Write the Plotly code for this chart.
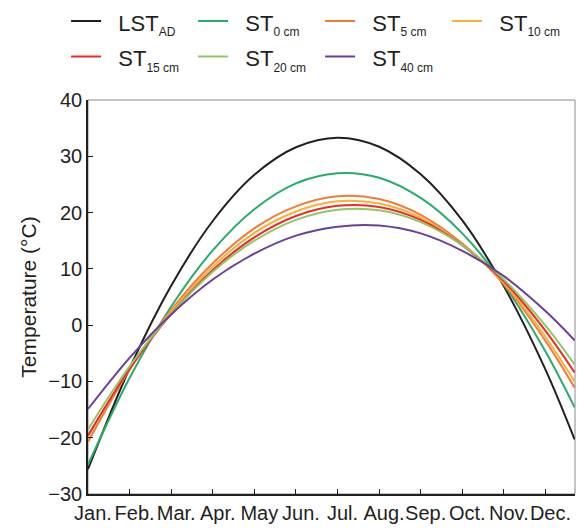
import plotly.graph_objects as go

# x position in months from start of January (axis runs to ~11.7)
month_pos = [0, 1, 2, 3, 4, 5, 6, 7, 8, 9, 10, 11, 11.7]
month_labels = ["Jan.", "Feb.", "Mar.", "Apr.", "May", "Jun.", "Jul.",
                "Aug.", "Sep.", "Oct.", "Nov.", "Dec."]

lst_ad = [-25.6, -7.7, 7.0, 18.5, 26.7, 31.6, 33.3, 31.7, 26.8, 18.6, 6.9, -7.9, -20.3]
st_0 = [-24.8, -9.4, 3.3, 13.3, 20.6, 25.2, 27.0, 26.2, 22.6, 16.3, 7.2, -4.7, -14.6]
st_5 = [-20.7, -7.9, 2.7, 11.0, 17.2, 21.1, 22.9, 22.4, 19.6, 14.5, 7.3, -2.8, -11.1]
st_10 = [-19.8, -7.7, 2.4, 10.4, 16.4, 20.2, 22.0, 21.6, 19.1, 14.2, 7.5, -2.1, -10.0]
st_15 = [-19.6, -7.8, 2.0, 9.8, 15.6, 19.4, 21.2, 21.0, 18.7, 14.2, 7.8, -1.0, -8.4]
st_20 = [-18.5, -7.3, 2.0, 9.5, 15.0, 18.7, 20.5, 20.4, 18.3, 14.2, 8.1, -0.1, -7.0]
st_40 = [-14.9, -5.8, 1.9, 8.1, 12.7, 15.9, 17.5, 17.7, 16.3, 13.2, 8.7, 2.5, -2.7]

series = [
    ("LST", "AD", lst_ad, "#231f20"),
    ("ST", "0 cm", st_0, "#25ad6c"),
    ("ST", "5 cm", st_5, "#ee7d3c"),
    ("ST", "10 cm", st_10, "#f8b133"),
    ("ST", "15 cm", st_15, "#ec2a2e"),
    ("ST", "20 cm", st_20, "#8fc862"),
    ("ST", "40 cm", st_40, "#6a3f9c"),
]

FONT = "Liberation Sans, Arial, sans-serif"
INK = "#231f20"
PAD = "\u00a0\u00a0"

fig = go.Figure()
for base, sub, vals, col in series:
    fig.add_trace(go.Scatter(
        x=month_pos, y=vals, mode="lines",
        line=dict(color=col, width=2, shape="spline", smoothing=1),
        name=(f"<span style='font-size:22px'>{PAD}{base}</span>"
              f"<sub><span style='font-size:12px'>{sub}</span></sub>"),
    ))

xr = [0, 11.71]
fig.update_layout(
    width=579, height=528,
    margin=dict(l=88, r=4, t=100, b=34, autoexpand=False),
    paper_bgcolor="white", plot_bgcolor="white",
    font=dict(family=FONT, size=20, color=INK),
    showlegend=True,
    legend=dict(
        orientation="h", x=-0.045, y=1.258, xanchor="left", yanchor="top",
        font=dict(family=FONT, size=25, color=INK),
        entrywidth=82, entrywidthmode="pixels",
        bgcolor="rgba(0,0,0,0)",
    ),
    xaxis=dict(
        range=xr, automargin=False,
        tickvals=[k + 0.12 for k in range(12)], ticktext=month_labels,
        ticks="", tickangle=0, ticklabelstandoff=0,
        tickfont=dict(family=FONT, size=20, color=INK),
        minor=dict(tickvals=list(range(1, 12)), ticks="inside", ticklen=5,
                   tickcolor=INK, tickwidth=1, showgrid=False),
        showline=True, linecolor=INK, linewidth=1.5,
        showgrid=False, zeroline=False,
    ),
    yaxis=dict(
        range=[-30, 40], dtick=10, tick0=0, automargin=False,
        ticks="inside", ticklen=5, tickcolor=INK, tickwidth=1,
        showline=True, linecolor=INK, linewidth=1.5,
        showgrid=False, zeroline=False,
        tickfont=dict(family=FONT, size=20, color=INK),
        title=dict(text="Temperature (°C)", font=dict(family=FONT, size=21, color=INK), standoff=6),
    ),
    shapes=[dict(type="rect", xref="x domain", yref="y domain", x0=0, x1=1, y0=0, y1=1,
                 line=dict(color="#8a8a8a", width=1), layer="below")],
)

fig.write_html("out.html", config={"displayModeBar": False},
               post_script="document.body.style.margin='0';document.body.style.padding='0';")
